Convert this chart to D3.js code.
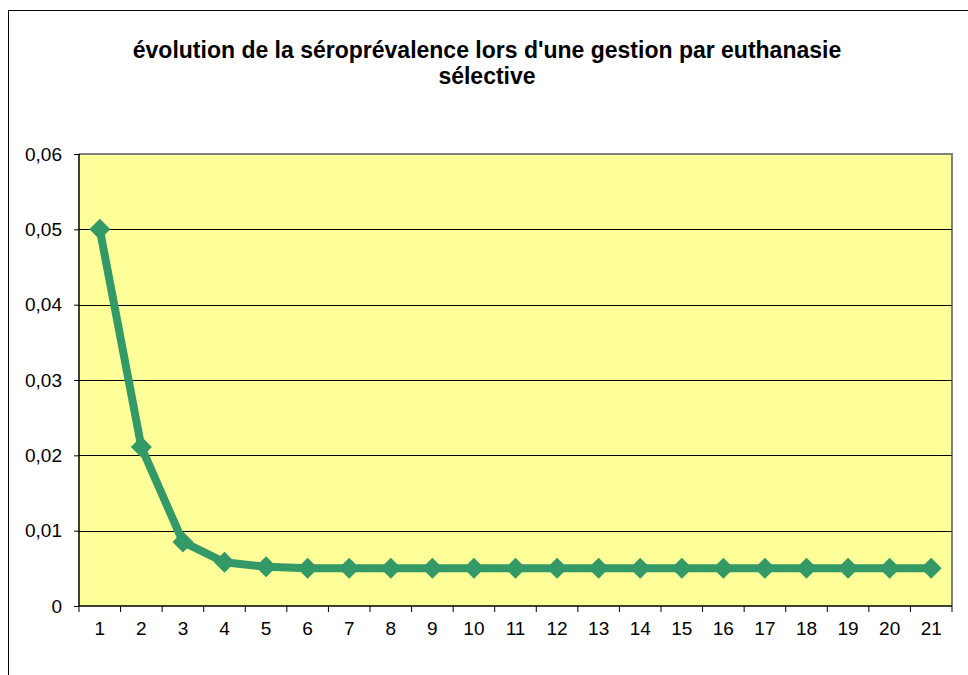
<!DOCTYPE html>
<html><head><meta charset="utf-8">
<script src="https://cdn.jsdelivr.net/npm/d3@7"></script>
<style>body{margin:0;background:#fff}svg{display:block}</style>
</head><body>
<svg id="c" width="968" height="675"></svg>
<script>
const categories = ["1","2","3","4","5","6","7","8","9","10","11","12","13","14","15","16","17","18","19","20","21"];
const values = [0.05,0.0211,0.0085,0.0058,0.0052,0.0050,0.0050,0.0050,0.0050,0.0050,0.0050,0.0050,0.0050,0.0050,0.0050,0.0050,0.0050,0.0050,0.0050,0.0050,0.0050];
const yTicks = [0,0.01,0.02,0.03,0.04,0.05,0.06];
const titleLines = ["évolution de la séroprévalence lors d'une gestion par euthanasie","sélective"];

const svg = d3.select("#c");
const L = 79, R = 952, T = 154, B = 606;
const font = "'Liberation Sans', Arial, sans-serif";

// outer chart border
svg.append("rect").attr("x",8.5).attr("y",10.5).attr("width",1000).attr("height",1000)
  .attr("fill","#fff").attr("stroke","#000").attr("stroke-width",1);

const x = d3.scaleBand().domain(categories).range([L,R]).padding(0);
const y = d3.scaleLinear().domain([0,0.06]).range([B,T]);

// plot area
svg.append("rect").attr("x",L).attr("y",T).attr("width",R-L).attr("height",B-T).attr("fill","#FFFF99");
// gray top/right border
svg.append("path").attr("d",`M${L},${T} H${R} V${B}`).attr("fill","none").attr("stroke","#808080").attr("stroke-width",2);

// gridlines
svg.append("g").selectAll("line").data(yTicks.filter(d=>d>0 && d<0.06)).join("line")
  .attr("x1",L).attr("x2",R).attr("y1",d=>Math.round(y(d))+0.5).attr("y2",d=>Math.round(y(d))+0.5)
  .attr("stroke","#000").attr("stroke-width",1);

// y axis
const yAxis = d3.axisLeft(y).tickValues(yTicks).tickSize(5).tickPadding(12)
  .tickFormat(d=> d===0 ? "0" : d3.format(".2f")(d).replace(".",","));
const gy = svg.append("g").attr("transform",`translate(${L},0)`).call(yAxis);
gy.select(".domain").remove();
gy.append("line").attr("x1",0).attr("x2",0).attr("y1",T).attr("y2",B).attr("stroke","#000").attr("stroke-width",1.5);
gy.selectAll("text").attr("font-family",font).attr("font-size",19).attr("fill","#000");
gy.selectAll(".tick line").attr("stroke","#000");

// x axis
const gx = svg.append("g").attr("transform",`translate(0,${B})`);
gx.append("line").attr("x1",L).attr("x2",R).attr("stroke","#000").attr("stroke-width",1.5);
gx.selectAll("line.t").data(categories.concat(["end"])).join("line").attr("class","t")
  .attr("x1",(d,i)=> i<categories.length ? x(d) : R).attr("x2",(d,i)=> i<categories.length ? x(d) : R)
  .attr("y1",0).attr("y2",6).attr("stroke","#000");
gx.selectAll("text").data(categories).join("text")
  .attr("x",d=>x(d)+x.bandwidth()/2).attr("y",29).attr("text-anchor","middle")
  .attr("font-family",font).attr("font-size",19).attr("fill","#000").text(d=>d);

// line
const cx = d=>x(d)+x.bandwidth()/2;
const line = d3.line().x((d,i)=>cx(categories[i])).y(d=>y(d));
svg.append("path").datum(values).attr("d",line).attr("fill","none")
  .attr("stroke","#339966").attr("stroke-width",8).attr("stroke-linejoin","round");
svg.append("g").selectAll("path").data(values).join("path")
  .attr("transform",(d,i)=>`translate(${cx(categories[i])},${y(d)})`)
  .attr("d","M0,-10.5 L10.5,0 L0,10.5 L-10.5,0 Z").attr("fill","#339966");

// title
svg.append("text").attr("x",487).attr("font-family",font).attr("font-weight","bold")
  .attr("font-size",23).attr("text-anchor","middle").attr("fill","#000")
  .selectAll("tspan").data(titleLines).join("tspan")
  .attr("x",487).attr("y",(d,i)=>58+i*26).text(d=>d);
</script>
</body></html>
